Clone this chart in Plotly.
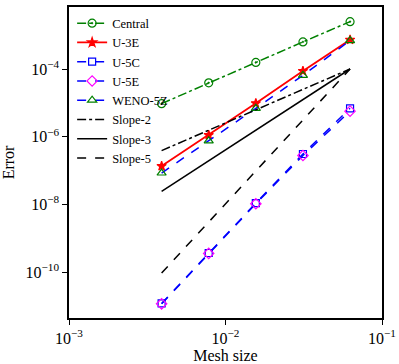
import plotly.graph_objects as go

# mesh sizes h = 1/256 ... 1/16
mesh = [1 / 256, 1 / 128, 1 / 64, 1 / 32, 1 / 16]

err_central = [9.5e-6, 3.9e-5, 1.56e-4, 6.3e-4, 2.5e-3]
err_u3e = [1.36e-7, 1.12e-6, 9.7e-6, 8.7e-5, 7.3e-4]
err_u5c = [1.2e-11, 3.7e-10, 1.1e-8, 3.1e-7, 6.9e-6]
err_u5e = [1.17e-11, 3.6e-10, 1.05e-8, 2.8e-7, 5.7e-6]
err_weno = [8.5e-8, 7.6e-7, 6.9e-6, 6.5e-5, 6.9e-4]

# reference slopes (end points)
slope_x = [1 / 256, 1 / 16]
slope2 = [3.9e-7, 1e-4]
slope3 = [2.44e-8, 1e-4]
slope5 = [9.5e-11, 1e-4]

FONT = "Liberation Serif"

fig = go.Figure()


def add(name, x, y, color, dash, symbol=None, mcolor=None, width=1.5, size=8):
    mode = "lines+markers" if symbol else "lines"
    fig.add_trace(go.Scatter(
        x=x, y=y, name=name, mode=mode,
        line=dict(color=color, dash=dash, width=width),
        marker=dict(symbol=symbol, size=size, color=mcolor or color,
                    line=dict(color=mcolor or color, width=1.2)) if symbol else None,
    ))


add("Central", mesh, err_central, "green", "dashdot", "circle-open-dot")
add("U-3E", mesh, err_u3e, "red", "solid", "star", width=1.8, size=7)
add("U-5C", mesh, err_u5c, "blue", "dash", "square-open", size=7)
add("U-5E", mesh, err_u5e, "blue", "dash", "diamond-open", mcolor="magenta")
add("WENO-5Z", mesh, err_weno, "blue", "dash", "triangle-up-open", mcolor="green")
add("Slope-2", slope_x, slope2, "black", "dashdot")
add("Slope-3", slope_x, slope3, "black", "solid")
add("Slope-5", slope_x, slope5, "black", "dash")

xt = [1e-3, 1e-2, 1e-1]
yt = [1e-4, 1e-6, 1e-8, 1e-10]

fig.update_layout(
    width=399, height=364,
    margin=dict(l=69, r=17, t=7, b=46),
    plot_bgcolor="white", paper_bgcolor="white",
    font=dict(family=FONT, size=16, color="black"),
    showlegend=True,
    legend=dict(x=0.01, y=0.995, xanchor="left", yanchor="top",
                bgcolor="rgba(0,0,0,0)", font=dict(size=12.5),
                itemwidth=30, tracegroupgap=0),
)
fig.update_xaxes(
    type="log", range=[-3, -1], automargin=False,
    tickvals=xt, ticktext=["10<sup>−3</sup>", "10<sup>−2</sup>", "10<sup>−1</sup>"],
    ticks="outside", ticklen=5, tickcolor="black",
    showline=True, linecolor="black", linewidth=1.5, mirror=True,
    showgrid=False, zeroline=False,
    title=dict(text="Mesh size", font=dict(size=16)),
)
fig.update_yaxes(
    type="log", range=[-11.35, -2.17], automargin=False,
    tickvals=yt, ticktext=["10<sup>−4</sup>", "10<sup>−6</sup>", "10<sup>−8</sup>", "10<sup>−10</sup>"],
    ticks="outside", ticklen=5, tickcolor="black",
    showline=True, linecolor="black", linewidth=1.5, mirror=True,
    showgrid=False, zeroline=False,
    title=dict(text="Error", font=dict(size=16)),
)

fig.write_html("out.html", config={"displayModeBar": False},
               post_script="document.body.style.margin='0';")
